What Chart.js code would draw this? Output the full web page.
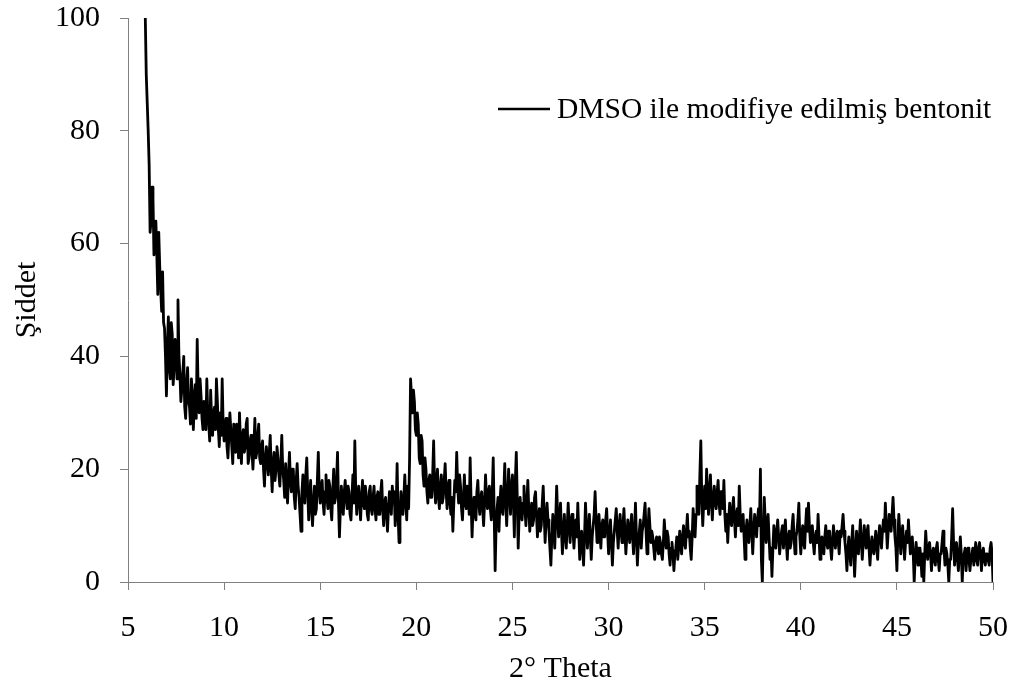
<!DOCTYPE html>
<html>
<head>
<meta charset="utf-8">
<script src="https://cdn.jsdelivr.net/npm/chart.js@4.4.1/dist/chart.umd.min.js"></script>
<style>
  html, body { margin: 0; padding: 0; background: #fff; }
  canvas { display: block; }
</style>
</head>
<body>
<canvas id="xrdChart" width="1016" height="688"></canvas>
<script>
const seriesLabel = 'DMSO ile modifiye edilmiş bentonit';
const xTitle = '2° Theta';
const yTitle = 'Şiddet';
const xTicks = [5, 10, 15, 20, 25, 30, 35, 40, 45, 50];
const yTicks = [0, 20, 40, 60, 80, 100];

// scan grid: first angle and step (2θ, degrees)
const scanStart = 5.9;
const scanStep = 0.05;

// measured intensity, one value per scan step
const intensity = [
  100, 90, 85, 80, 74, 62, 64, 70, 68, 58, 60, 64, 58, 51, 62, 56, 52, 48, 55, 46,   // 5.90 - 6.85
  45, 40, 33, 42, 47, 38, 36, 46, 44, 35, 38, 43, 42, 36, 50, 40, 37, 32,           // 6.90 - 7.75
  34, 37, 40, 31, 29, 35, 38, 32, 31, 28, 36, 33, 27, 32, 35, 29, 43, 34, 30, 36,   // 7.80 - 8.75
  33, 29, 27, 32, 31, 27, 36, 30, 28, 25, 34, 29, 26, 30, 31, 27, 36, 32, 27, 24,
  30, 26, 36, 28, 25, 27, 29, 24, 22, 26, 30, 27, 24, 21, 28, 25, 23, 28, 27, 22,
  30, 25, 21, 26, 27, 23, 24, 28, 29, 21, 22, 25, 26, 23, 20, 24, 29, 22, 23, 26,
  28, 22, 21, 24, 25, 20, 17, 22, 24, 21, 19, 23, 26, 20, 16, 21, 23, 18, 20, 24,
  22, 19, 17, 21, 26, 20, 18, 15, 21, 17, 14, 19, 23, 18, 16, 20, 20, 15, 13, 18,   // 12.80 - 13.75
  21, 17, 15, 12, 9, 16, 19, 15, 14, 19, 22, 16, 11, 15, 18, 13, 10, 14, 17, 12,
  13, 18, 23, 16, 14, 17, 18, 14, 12, 16, 19, 15, 13, 18, 17, 13, 11, 16, 20, 14,
  15, 18, 23, 14, 8, 13, 17, 14, 12, 16, 18, 15, 13, 17, 16, 12, 11, 15, 19, 14,
  25, 16, 12, 15, 17, 14, 11, 15, 18, 14, 13, 17, 15, 12, 11, 16, 17, 13, 12, 15,
  17, 13, 11, 15, 16, 12, 12, 16, 18, 13, 10, 14, 15, 12, 9, 13, 16, 14, 12, 17,
  14, 16, 10, 13, 21, 12, 7, 11, 16, 13, 12, 15, 19, 14, 11, 17, 13, 22, 36, 33,    // 18.80 - 19.75
  30, 34, 32, 27, 26, 30, 28, 22, 21, 26, 25, 19, 17, 22, 20, 16, 14, 18, 19, 15,
  15, 19, 25, 17, 14, 18, 20, 15, 13, 17, 19, 14, 15, 18, 21, 16, 13, 17, 18, 14,
  12, 15, 9, 14, 18, 16, 23, 17, 14, 19, 17, 13, 11, 15, 19, 14, 13, 17, 16, 12,
  22, 14, 8, 13, 15, 12, 11, 16, 18, 14, 12, 15, 16, 13, 10, 14, 19, 15, 13, 16,
  17, 13, 11, 16, 22, 12, 2, 10, 13, 15, 9, 14, 17, 13, 12, 16, 21, 14, 10, 15,     // 23.80 - 24.75
  20, 16, 12, 17, 19, 14, 8, 18, 23, 15, 6, 12, 15, 12, 11, 14, 17, 13, 10, 14,
  18, 13, 9, 12, 14, 10, 11, 15, 16, 12, 8, 11, 13, 9, 10, 14, 17, 12, 7, 11,
  14, 11, 9, 6, 3, 8, 12, 10, 6, 11, 17, 12, 8, 11, 14, 9, 5, 9, 12, 8,
  6, 10, 14, 10, 7, 11, 12, 9, 6, 9, 11, 8, 14, 9, 4, 7, 9, 6, 3, 8,
  14, 10, 6, 9, 12, 8, 4, 8, 10, 12, 16, 11, 7, 10, 12, 9, 6, 10, 11, 8,            // 28.80 - 29.75
  8, 11, 13, 9, 5, 8, 11, 7, 3, 7, 9, 11, 13, 9, 6, 10, 12, 9, 7, 10,
  13, 9, 5, 8, 11, 9, 7, 10, 12, 8, 5, 9, 14, 8, 3, 7, 9, 11, 6, 9,
  10, 12, 14, 9, 5, 9, 13, 10, 7, 9, 8, 6, 4, 7, 8, 6, 5, 8, 7, 5,
  4, 7, 11, 8, 6, 9, 8, 5, 3, 6, 7, 5, 2, 5, 6, 8, 4, 6, 9, 7,
  5, 8, 10, 7, 6, 9, 12, 8, 9, 6, 4, 8, 13, 10, 8, 12, 17, 14, 12, 19,              // 33.80 - 34.75
  25, 15, 10, 14, 17, 13, 20, 16, 12, 16, 19, 14, 11, 15, 17, 14, 13, 16, 18, 14,
  12, 16, 15, 13, 18, 12, 9, 12, 7, 11, 14, 11, 10, 13, 15, 11, 8, 12, 13, 10,
  17, 12, 9, 11, 12, 8, 4, 9, 11, 8, 7, 10, 13, 9, 5, 9, 12, 10, 8, 11,
  13, 10, 20, 4, 0, 8, 15, 11, 7, 10, 12, 8, 4, 6, 1, 6, 10, 8, 6, 9,
  11, 8, 5, 7, 9, 10, 6, 9, 11, 7, 4, 8, 9, 6, 7, 10, 12, 8, 5, 8,                  // 38.80 - 39.75
  9, 11, 14, 8, 5, 8, 10, 7, 6, 10, 13, 9, 14, 10, 7, 9, 10, 7, 5, 8,
  9, 7, 12, 8, 4, 7, 8, 6, 5, 8, 10, 7, 6, 9, 9, 6, 4, 7, 10, 8,
  6, 8, 9, 7, 5, 9, 8, 10, 12, 9, 7, 5, 2, 6, 8, 5, 3, 7, 10, 6,
  1, 5, 9, 7, 5, 8, 11, 7, 4, 7, 10, 8, 6, 9, 10, 6, 3, 6, 8, 6,
  5, 7, 9, 6, 4, 8, 10, 8, 6, 9, 11, 9, 14, 10, 6, 9, 12, 10, 9, 12,                // 43.80 - 44.75
  15, 11, 8, 6, 2, 8, 12, 9, 5, 8, 10, 7, 4, 7, 9, 7, 11, 8, 5, 7,
  8, 5, 0, 4, 7, 5, 3, 6, 6, 4, 1, 5, 0, 5, 9, 6, 4, 6, 7, 5,
  2, 5, 6, 4, 3, 6, 7, 4, 2, 5, 5, 7, 9, 6, 3, 6, 5, 3, 0, 4,
  4, 8, 13, 7, 3, 6, 7, 4, 2, 5, 8, 5, 0, 4, 5, 6, 2, 5, 6, 4,
  2, 4, 5, 6, 3, 5, 7, 4, 3, 6, 7, 5, 2, 5, 6, 4, 3, 5, 5, 4,                       // 48.80 - 49.75
  3, 6, 7, 5, 0
];

const points = intensity.map((v, i) => ({
  x: +(scanStart + i * scanStep).toFixed(2),
  y: v
}));

const serif = '"Liberation Serif", "Times New Roman", serif';
const axisGrey = '#808080';

// legend sits inside the plot, top right
const legendLine = {
  id: 'legendLine',
  afterDraw(chart) {
    const ctx = chart.ctx;
    const ds = chart.data.datasets[0];
    ctx.save();
    ctx.strokeStyle = ds.borderColor;
    ctx.lineWidth = 2.6;
    ctx.beginPath();
    ctx.moveTo(498, 109);
    ctx.lineTo(550, 109);
    ctx.stroke();
    ctx.fillStyle = '#000';
    ctx.font = '29.5px ' + serif;
    ctx.textBaseline = 'middle';
    ctx.fillText(ds.label, 557, 110);
    ctx.restore();
  }
};

new Chart(document.getElementById('xrdChart').getContext('2d'), {
  type: 'line',
  data: {
    datasets: [{
      label: seriesLabel,
      data: points,
      borderColor: '#000',
      borderWidth: 2.8,
      borderJoinStyle: 'round',
      pointRadius: 0,
      tension: 0,
      fill: false
    }]
  },
  options: {
    responsive: false,
    animation: false,
    devicePixelRatio: 1,
    layout: { padding: { top: 18, right: 23, left: 0, bottom: 0 } },
    plugins: {
      legend: { display: false },
      tooltip: { enabled: false }
    },
    scales: {
      x: {
        type: 'linear',
        min: 5,
        max: 50,
        afterBuildTicks: s => { s.ticks = xTicks.map(v => ({ value: v })); },
        afterFit: s => { s.height = 106; s.paddingLeft = 0; s.paddingRight = 0; },
        grid: { drawOnChartArea: false, drawTicks: true, tickLength: 8, color: axisGrey },
        border: { display: true, color: axisGrey, width: 1 },
        ticks: { color: '#000', font: { family: serif, size: 30 }, padding: 20, maxRotation: 0 },
        title: {
          display: true,
          text: xTitle,
          color: '#000',
          font: { family: serif, size: 30 },
          padding: { top: 0, bottom: 1 }
        }
      },
      y: {
        min: 0,
        max: 100,
        afterBuildTicks: s => { s.ticks = yTicks.map(v => ({ value: v })); },
        afterFit: s => { s.width = 128; s.paddingTop = 0; s.paddingBottom = 0; },
        grid: { drawOnChartArea: false, drawTicks: true, tickLength: 8, color: axisGrey },
        border: { display: true, color: axisGrey, width: 1 },
        ticks: { color: '#000', font: { family: serif, size: 30 }, padding: 20 },
        title: {
          display: true,
          text: yTitle,
          color: '#000',
          font: { family: serif, size: 30 },
          padding: { top: 9, bottom: 0 }
        }
      }
    }
  },
  plugins: [legendLine]
});
</script>
</body>
</html>
